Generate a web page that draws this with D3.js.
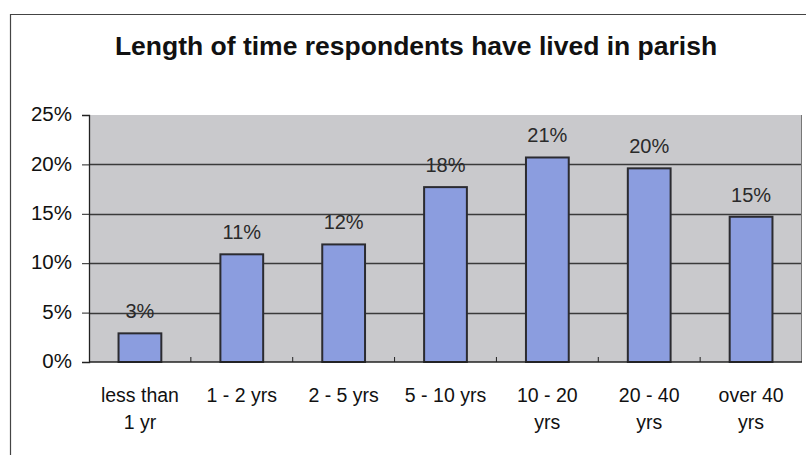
<!DOCTYPE html>
<html>
<head>
<meta charset="utf-8">
<script src="https://cdn.jsdelivr.net/npm/d3@7/dist/d3.min.js"></script>
<style>
  body { margin: 0; background: #fff; }
  #chart { width: 806px; height: 455px; }
  text { font-family: "Liberation Sans", Arial, sans-serif; }
</style>
</head>
<body>
<div id="chart"></div>
<script>
const title = 'Length of time respondents have lived in parish';
const categories = ['less than 1 yr', '1 - 2 yrs', '2 - 5 yrs', '5 - 10 yrs', '10 - 20 yrs', '20 - 40 yrs', 'over 40 yrs'];
// how Excel wrapped each category label
const categoryLines = [
  ['less than', '1 yr'],
  ['1 - 2 yrs'],
  ['2 - 5 yrs'],
  ['5 - 10 yrs'],
  ['10 - 20', 'yrs'],
  ['20 - 40', 'yrs'],
  ['over 40', 'yrs']
];
const shares = [0.029, 0.109, 0.119, 0.177, 0.207, 0.196, 0.147];
const yTicks = [0, 0.05, 0.10, 0.15, 0.20, 0.25];

const chart = {
  width: 806,
  height: 455,
  margin: { top: 115, right: 4, bottom: 93, left: 89 },

  init() {
    this.svg = d3.select('#chart').append('svg')
      .attr('width', this.width)
      .attr('height', this.height);

    this.innerW = this.width - this.margin.left - this.margin.right;
    this.innerH = this.height - this.margin.top - this.margin.bottom;

    this.x = d3.scaleBand()
      .domain(categories)
      .range([0, this.innerW])
      .paddingInner(0.58)
      .paddingOuter(0.29);

    this.y = d3.scaleLinear()
      .domain([0, 0.25])
      .range([this.innerH, 0]);

    this.drawFrame();
    this.drawTitle();
    this.g = this.svg.append('g')
      .attr('transform', `translate(${this.margin.left},${this.margin.top})`);
    this.drawPlotArea();
    this.drawBars();
    this.drawAxes();
  },

  drawFrame() {
    // outer chart border, cut off by the scan on the right and bottom
    this.svg.append('path')
      .attr('d', 'M10.5,460 V14.5 H810')
      .attr('fill', 'none')
      .attr('stroke', '#444')
      .attr('stroke-width', 1.2);
  },

  drawTitle() {
    this.svg.append('text')
      .attr('x', 416)
      .attr('y', 55)
      .attr('text-anchor', 'middle')
      .attr('font-size', 26.5)
      .attr('font-weight', 'bold')
      .attr('fill', '#111')
      .text(title);
  },

  drawPlotArea() {
    this.g.append('rect')
      .attr('width', this.innerW)
      .attr('height', this.innerH)
      .attr('fill', '#c9c9cc');

    this.g.append('g')
      .selectAll('line')
      .data(yTicks.filter((d) => d > 0 && d < 0.25))
      .join('line')
      .attr('x1', 0)
      .attr('x2', this.innerW)
      .attr('y1', (d) => Math.round(this.y(d)) + 0.5)
      .attr('y2', (d) => Math.round(this.y(d)) + 0.5)
      .attr('stroke', '#3a3a3a')
      .attr('stroke-width', 1.3);

    this.g.append('line')
      .attr('x1', this.innerW - 0.5)
      .attr('x2', this.innerW - 0.5)
      .attr('y1', 0)
      .attr('y2', this.innerH)
      .attr('stroke', '#777');
  },

  drawBars() {
    const fmt = d3.format('.0%');
    const data = categories.map((c, i) => ({ cat: c, v: shares[i] }));

    this.g.append('g')
      .selectAll('rect')
      .data(data)
      .join('rect')
      .attr('x', (d) => this.x(d.cat))
      .attr('y', (d) => this.y(d.v))
      .attr('width', this.x.bandwidth())
      .attr('height', (d) => this.innerH - this.y(d.v))
      .attr('fill', '#8b9ddf')
      .attr('stroke', '#2b2b30')
      .attr('stroke-width', 2);

    this.g.append('g')
      .selectAll('text')
      .data(data)
      .join('text')
      .attr('x', (d) => this.x(d.cat) + this.x.bandwidth() / 2)
      .attr('y', (d) => this.y(d.v) - 15)
      .attr('text-anchor', 'middle')
      .attr('font-size', 20)
      .attr('fill', '#2a2a2a')
      .text((d) => fmt(d.v));
  },

  drawAxes() {
    const yAxis = d3.axisLeft(this.y)
      .tickValues(yTicks)
      .tickFormat(d3.format('.0%'))
      .tickSize(7)
      .tickPadding(10);

    const yg = this.g.append('g').call(yAxis);
    yg.select('.domain').attr('stroke', '#222').attr('stroke-width', 1.3);
    yg.selectAll('.tick line').attr('stroke', '#222');
    yg.selectAll('.tick text')
      .attr('font-size', 20.5)
      .attr('font-family', '"Liberation Sans", Arial, sans-serif')
      .attr('fill', '#111')
      .attr('dy', '0.28em');

    // x axis: baseline plus small ticks at category boundaries
    const step = this.x.step();
    const bounds = d3.range(1, categories.length).map((i) => i * step);
    const xg = this.g.append('g')
      .attr('transform', `translate(0,${this.innerH})`);
    xg.append('line')
      .attr('x1', 0)
      .attr('x2', this.innerW)
      .attr('stroke', '#222')
      .attr('stroke-width', 1.3);
    xg.selectAll('line.tk')
      .data(bounds)
      .join('line')
      .attr('class', 'tk')
      .attr('x1', (d) => d)
      .attr('x2', (d) => d)
      .attr('y1', -5)
      .attr('y2', 0)
      .attr('stroke', '#222');

    const labels = xg.selectAll('text')
      .data(categories)
      .join('text')
      .attr('text-anchor', 'middle')
      .attr('font-size', 19.5)
      .attr('fill', '#111')
      .attr('transform', (d) => `translate(${this.x(d) + this.x.bandwidth() / 2},0)`);

    labels.selectAll('tspan')
      .data((d, i) => categoryLines[i])
      .join('tspan')
      .attr('x', 0)
      .attr('y', (d, i) => 40 + i * 27)
      .text((d) => d);
  }
};

chart.init();
</script>
</body>
</html>
